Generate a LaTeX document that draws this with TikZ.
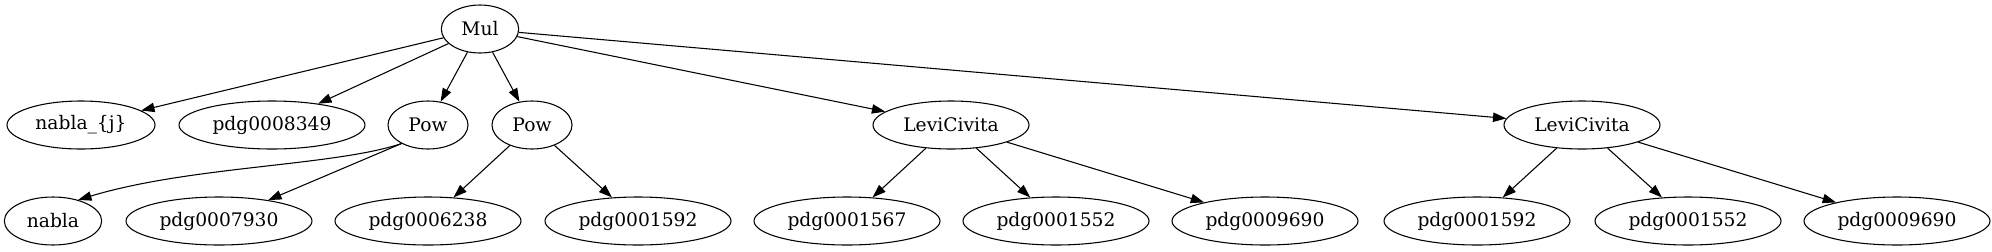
\documentclass[tikz,border=0pt]{standalone}
\usepackage{fontspec}
\setmainfont{DejaVu Serif}
\usetikzlibrary{shapes.geometric,arrows.meta}
\begin{document}
\begin{tikzpicture}[x=0.75pt,y=-0.75pt,
  gnode/.style={draw,ellipse,line width=0.8pt,inner sep=0pt,minimum height=36pt,font=\fontsize{14pt}{16pt}\selectfont},
  wpdg/.style={gnode,minimum width=139.5pt},
  edge/.style={draw,line width=0.8pt,-{Triangle[length=10pt,width=7pt]}}]
\useasboundingbox[fill=white] (0,0) rectangle (1992,251);
\node[gnode,minimum width=58pt] (mul) at (480,29) {Mul};
\node[gnode,minimum width=111pt] (nj) at (81,125) {nabla\_\{j\}};
\node[wpdg] (p8349) at (272,125) {pdg0008349};
\node[gnode,minimum width=60pt] (pow1) at (428,125) {Pow};
\node[gnode,minimum width=60pt] (pow2) at (532,125) {Pow};
\node[gnode,minimum width=117pt] (lc1) at (951,125) {LeviCivita};
\node[gnode,minimum width=117pt] (lc2) at (1582,125) {LeviCivita};
\node[gnode,minimum width=73pt] (nabla) at (53,221) {nabla};
\node[wpdg] (p7930) at (219,221) {pdg0007930};
\node[wpdg] (p6238) at (428,221) {pdg0006238};
\node[wpdg] (p1592a) at (638,221) {pdg0001592};
\node[wpdg] (p1567) at (847,221) {pdg0001567};
\node[wpdg] (p1552a) at (1056,221) {pdg0001552};
\node[wpdg] (p9690a) at (1265,221) {pdg0009690};
\node[wpdg] (p1592b) at (1477,221) {pdg0001592};
\node[wpdg] (p1552b) at (1688,221) {pdg0001552};
\node[wpdg] (p9690b) at (1897,221) {pdg0009690};
\draw[edge] (mul) -- (nj);
\draw[edge] (mul) -- (p8349);
\draw[edge] (mul) -- (pow1);
\draw[edge] (mul) -- (pow2);
\draw[edge] (mul) -- (lc1);
\draw[edge] (mul) -- (lc2);
\draw[edge] (pow1.215) .. controls (335,166) and (190,166) .. (nabla.40);
\draw[edge] (pow1.215) -- (p7930);
\draw[edge] (pow2) -- (p6238);
\draw[edge] (pow2) -- (p1592a);
\draw[edge] (lc1) -- (p1567);
\draw[edge] (lc1) -- (p1552a);
\draw[edge] (lc1) -- (p9690a);
\draw[edge] (lc2) -- (p1592b);
\draw[edge] (lc2) -- (p1552b);
\draw[edge] (lc2) -- (p9690b);
\end{tikzpicture}
\end{document}
